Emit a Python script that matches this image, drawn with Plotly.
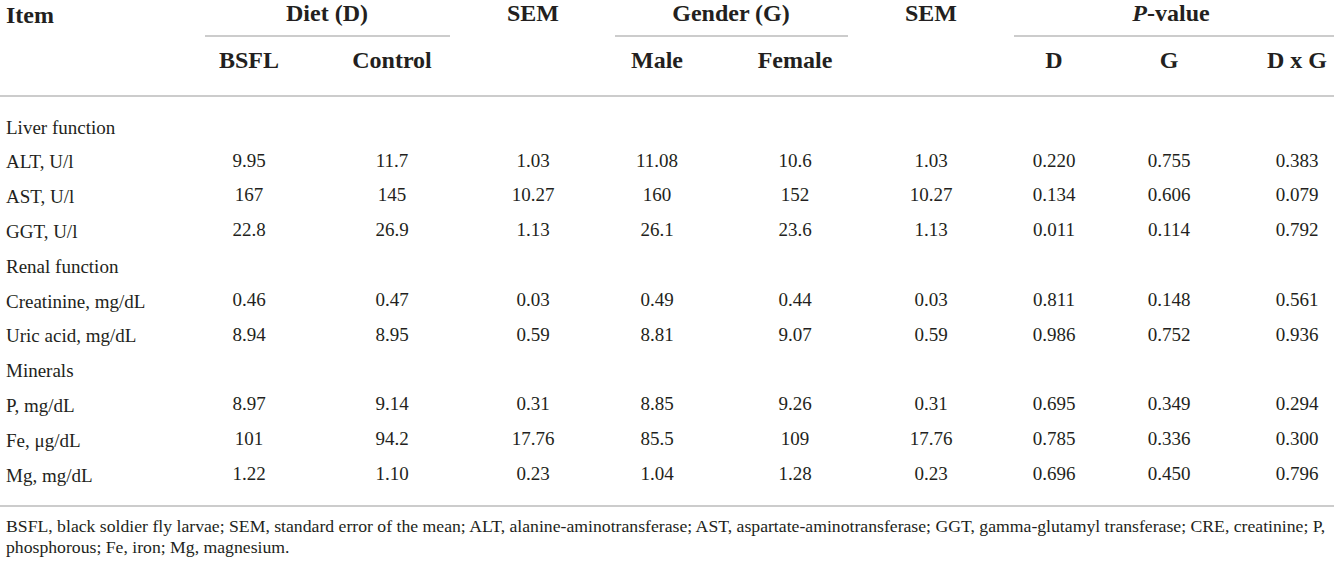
import plotly.graph_objects as go

# ---------------- data ----------------
group_names = ["Liver function", "Renal function", "Minerals"]
group_sizes = [3, 2, 3]
items = ["ALT, U/l", "AST, U/l", "GGT, U/l",
         "Creatinine, mg/dL", "Uric acid, mg/dL",
         "P, mg/dL", "Fe, μg/dL", "Mg, mg/dL"]
bsfl = ["9.95", "167", "22.8", "0.46", "8.94", "8.97", "101", "1.22"]
control = ["11.7", "145", "26.9", "0.47", "8.95", "9.14", "94.2", "1.10"]
sem_diet = ["1.03", "10.27", "1.13", "0.03", "0.59", "0.31", "17.76", "0.23"]
male = ["11.08", "160", "26.1", "0.49", "8.81", "8.85", "85.5", "1.04"]
female = ["10.6", "152", "23.6", "0.44", "9.07", "9.26", "109", "1.28"]
sem_gender = ["1.03", "10.27", "1.13", "0.03", "0.59", "0.31", "17.76", "0.23"]
p_diet = ["0.220", "0.134", "0.011", "0.811", "0.986", "0.695", "0.785", "0.696"]
p_gender = ["0.755", "0.606", "0.114", "0.148", "0.752", "0.349", "0.336", "0.450"]
p_inter = ["0.383", "0.079", "0.792", "0.561", "0.936", "0.294", "0.300", "0.796"]

header_top = ["Item", "Diet (D)", "SEM", "Gender (G)", "SEM", "<i>P</i>-value"]
header_sub = ["BSFL", "Control", "Male", "Female", "D", "G", "D x G"]
footnote = [
    "BSFL, black soldier fly larvae; SEM, standard error of the mean; ALT, alanine-aminotransferase; "
    "AST, aspartate-aminotransferase; GGT, gamma-glutamyl transferase; CRE, creatinine; P,",
    "phosphorous; Fe, iron; Mg, magnesium.",
]

# ---------------- layout geometry ----------------
W, H = 1334, 567
FONT = "Liberation Serif"
TXT = "#231f20"
LINE = "#cccccc"

col_x = [249, 392, 533, 657, 795, 931, 1054, 1169, 1297]
top_x = [4, 327, 533, 731, 931, 1171]
sub_x = [249, 392, 657, 795, 1054, 1169, 1297]
y_top, y_sub = 15, 62
row_y0, row_step = 127, 34.8
HDR_SIZE, BODY_SIZE, FOOT_SIZE = 24, 19, 17.7

fig = go.Figure()

# header rows
fig.add_trace(go.Scatter(
    x=top_x[1:], y=[y_top] * (len(top_x) - 1), mode="text",
    text=[f"<b>{t}</b>" for t in header_top[1:]],
    textfont=dict(family=FONT, size=HDR_SIZE, color=TXT), hoverinfo="skip"))
fig.add_annotation(x=top_x[0], y=y_top, text=f"<b>{header_top[0]}</b>", showarrow=False,
                   xanchor="left", yanchor="middle",
                   font=dict(family=FONT, size=HDR_SIZE, color=TXT))
fig.add_trace(go.Scatter(
    x=sub_x, y=[y_sub] * len(sub_x), mode="text",
    text=[f"<b>{t}</b>" for t in header_sub],
    textfont=dict(family=FONT, size=HDR_SIZE, color=TXT), hoverinfo="skip"))

# body rows
columns = [bsfl, control, sem_diet, male, female, sem_gender, p_diet, p_gender, p_inter]
k = 0
idx = 0
for g, n in zip(group_names, group_sizes):
    fig.add_annotation(x=4, y=row_y0 + row_step * k, text=g, showarrow=False,
                       xanchor="left", yanchor="middle",
                       font=dict(family=FONT, size=BODY_SIZE, color=TXT))
    k += 1
    for j in range(n):
        y = row_y0 + row_step * k
        fig.add_annotation(x=4, y=y, text=items[idx], showarrow=False,
                           xanchor="left", yanchor="middle",
                           font=dict(family=FONT, size=BODY_SIZE, color=TXT))
        fig.add_trace(go.Scatter(
            x=col_x, y=[y] * len(col_x), mode="text",
            text=[c[idx] for c in columns],
            textfont=dict(family=FONT, size=BODY_SIZE, color=TXT), hoverinfo="skip"))
        idx += 1
        k += 1

# footnote
for i, line in enumerate(footnote):
    fig.add_annotation(x=4, y=526 + 21 * i, text=line, showarrow=False,
                       xanchor="left", yanchor="middle",
                       font=dict(family=FONT, size=FOOT_SIZE, color=TXT))

# rules
rules = [(205, 450, 36), (615, 848, 36), (1014, 1334, 36), (0, 1334, 96), (0, 1334, 506)]
for x0, x1, yy in rules:
    fig.add_shape(type="line", x0=x0, x1=x1, y0=yy, y1=yy,
                  line=dict(color=LINE, width=2), layer="below")

fig.update_layout(
    width=W, height=H, margin=dict(l=0, r=0, t=0, b=0),
    paper_bgcolor="white", plot_bgcolor="white", showlegend=False,
    xaxis=dict(range=[0, W], visible=False, fixedrange=True),
    yaxis=dict(range=[H, 0], visible=False, fixedrange=True),
)
fig.write_html("out.html", config={"displayModeBar": False},
               post_script="document.body.style.margin='0';document.body.style.overflow='hidden';")
